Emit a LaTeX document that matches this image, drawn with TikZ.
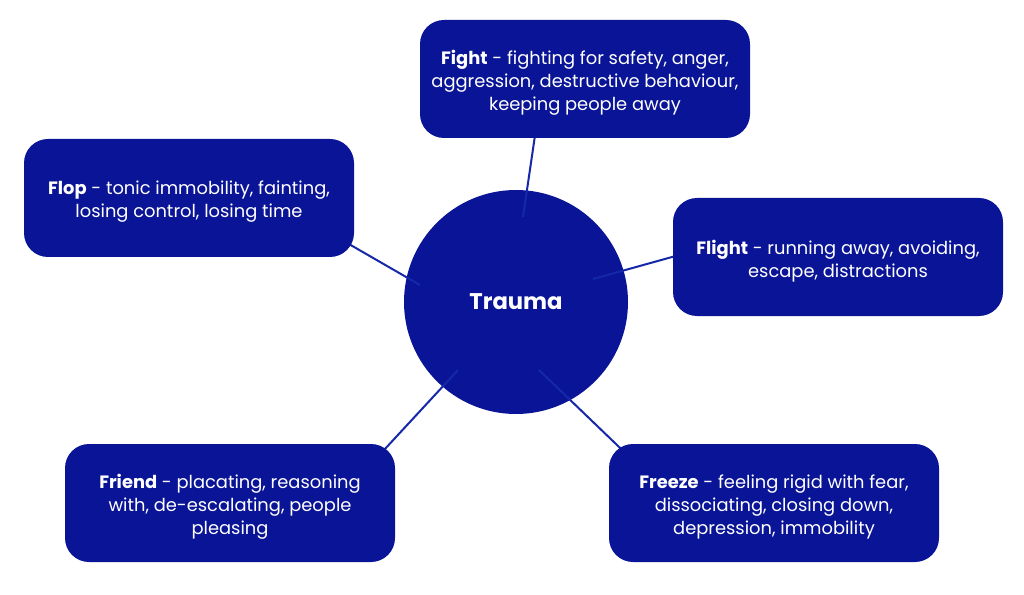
\documentclass[tikz,border=0pt]{standalone}
\usepackage{fontspec}
\setmainfont{Poppins}
\begin{document}
\begin{tikzpicture}[x=0.75pt,y=-0.75pt,
  every node/.style={inner sep=0pt, outer sep=0pt},
  hub/.style={circle, fill=navy, minimum size=168pt},
  hubtext/.style={text=white, font=\fontsize{17}{20}\selectfont\bfseries},
  card/.style={rounded corners=18pt, fill=navy, minimum width=247.5pt, minimum height=88.5pt},
  cardtext/.style={text=white, align=center, font=\fontsize{13.4}{17.25}\selectfont, yshift=-3pt},
  link/.style={draw=linkblue, line width=1.5pt}]
\definecolor{navy}{HTML}{0A1496}
\definecolor{linkblue}{HTML}{1428A8}
\useasboundingbox (0,0) rectangle (1024,595);
\fill[white] (0,0) rectangle (1024,595);
\node[hub] (trauma) at (516,302) {};
% connector end points
\coordinate (cFight) at (523,217);
\coordinate (cFlop) at (420,285);
\coordinate (cFlight) at (593,279);
\coordinate (cFriend) at (458,370);
\coordinate (cFreeze) at (539,370);
\coordinate (bFight) at (538,115);
\coordinate (bFlop) at (335,236);
\coordinate (bFlight) at (690,252);
\coordinate (bFriend) at (372,463);
\coordinate (bFreeze) at (643,470);
\draw[link] (cFight) -- (bFight);
\draw[link] (cFlop) -- (bFlop);
\draw[link] (cFlight) -- (bFlight);
\draw[link] (cFriend) -- (bFriend);
\draw[link] (cFreeze) -- (bFreeze);
\node[hubtext] (tlabel) at (trauma.center) {Trauma};
\node[card] (fight) at (585,79) {};
\node[card] (flop) at (189,198) {};
\node[card] (flight) at (838,257) {};
\node[card] (friend) at (230,503) {};
\node[card] (freeze) at (774,503) {};
\node[cardtext] (fightT) at (fight.center) {\textbf{Fight} - fighting for safety, anger,\\aggression, destructive behaviour,\\keeping people away};
\node[cardtext] (flopT) at (flop.center) {\textbf{Flop} - tonic immobility, fainting,\\losing control, losing time};
\node[cardtext] (flightT) at (flight.center) {\textbf{Flight} - running away, avoiding,\\escape, distractions};
\node[cardtext] (friendT) at (friend.center) {\textbf{Friend} - placating, reasoning\\with, de-escalating, people\\pleasing};
\node[cardtext] (freezeT) at (freeze.center) {\textbf{Freeze} - feeling rigid with fear,\\dissociating, closing down,\\depression, immobility};
\end{tikzpicture}
\end{document}
